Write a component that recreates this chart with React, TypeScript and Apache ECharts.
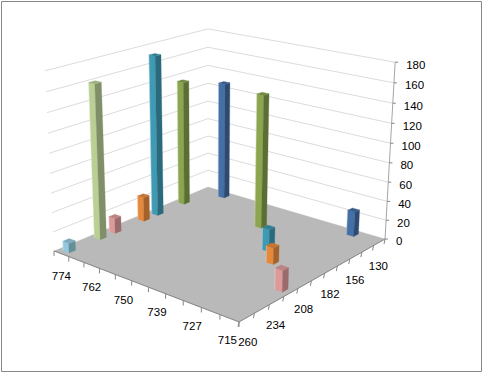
import React, { useEffect, useRef } from "react";
import * as echarts from "echarts";

// Axis categories and ticks
const frontCategories = ["774", "768", "762", "756", "750", "745", "739", "733", "727", "721", "715"];
const depthCategories = ["130", "143", "156", "169", "182", "195", "208", "221", "234", "247", "260"];
const valueTicks = [0, 20, 40, 60, 80, 100, 120, 140, 160, 180];
const valueMax = 180;

// Bars, one entry per column in the picture
const barFrontIndex = [1, 0, 0, 0, 0, 0, 0, 9, 5, 7, 8, 10];
const barDepthIndex = [0, 2, 4, 5, 7, 8, 10, 0, 2, 4, 5, 7];
const barValues = [128, 135, 171, 26, 16, 160, 10, 26, 140, 23, 17, 21];

// Series colours by depth category: [left face, right face, top face]
const depthColors: Record<number, string[]> = {
  0: ["#4470a6", "#2c4a72", "#375d8b"],
  2: ["#8ba64e", "#5b6e33", "#72893f"],
  4: ["#3f9ab3", "#2a6a7c", "#338095"],
  5: ["#e58a3c", "#a4622a", "#c47533"],
  7: ["#dc9a9a", "#9a6b6b", "#bb8383"],
  8: ["#b9cf94", "#808f67", "#9cb07e"],
  10: ["#92c9de", "#659098", "#7cabbd"],
};

// Projection of (s, t, z) to the page, in homogeneous coordinates
const P = {
  a: 132.9, b: -161.2, c: 208,
  d: 24.6, e: 30.4, f: 187,
  g: -0.1146, h: -0.1337,
  cx: -10, cy: -159.5, cw: -0.048,
};
const project = (s: number, t: number, z: number): number[] => {
  const k = z / valueMax;
  const w = P.g * s + P.h * t + 1 + P.cw * k;
  return [
    (P.a * s + P.b * t + P.c + P.cx * k) / w,
    (P.d * s + P.e * t + P.f + P.cy * k) / w,
  ];
};
const sOf = (i: number) => (i + 0.5) / frontCategories.length;
const tOf = (j: number) => (j + 0.5) / depthCategories.length;
const HALF = 0.0185;

const fontFamily = '"Liberation Sans", Arial, sans-serif';
const textEl = (text: string, x: number, y: number, align: string) => ({
  type: "text",
  silent: true,
  style: { text, x, y, align, verticalAlign: "middle", fill: "#000", font: `11.5px ${fontFamily}` },
});
const lineEl = (p: number[], q: number[], stroke: string, lineWidth = 1, opacity = 1) => ({
  type: "line",
  silent: true,
  shape: { x1: p[0], y1: p[1], x2: q[0], y2: q[1] },
  style: { stroke, lineWidth, opacity },
});
const polyEl = (points: number[][], fill: string) => ({
  type: "polygon",
  silent: true,
  shape: { points },
  style: { fill, stroke: fill, lineWidth: 0.3 },
});

function renderScene() {
  const children: any[] = [];
  // Walls' gridlines
  valueTicks.forEach((v) => {
    if (v > 0) {
      children.push({
        type: "polyline",
        silent: true,
        shape: { points: [project(0, 1, v), project(0, 0, v), project(1, 0, v)] },
        style: { stroke: "#dcdcdc", lineWidth: 1, fill: "none" },
      });
    }
  });
  // Floor
  children.push(polyEl([project(0, 0, 0), project(1, 0, 0), project(1, 1, 0), project(0, 1, 0)], "#b9b9b9"));
  // Value axis
  children.push(lineEl(project(1, 0, 0), project(1, 0, valueMax), "#a6a6a6"));
  valueTicks.forEach((v) => {
    const p = project(1, 0, v);
    children.push(lineEl(p, [p[0] + 3, p[1]], "#868686"));
    children.push(textEl(String(v), p[0] + 11, p[1] + 2.5, "left"));
  });
  // Floor axes
  children.push(lineEl(project(0, 1, 0), project(1, 1, 0), "#868686"));
  children.push(lineEl(project(1, 0, 0), project(1, 1, 0), "#868686"));
  for (let i = 0; i <= frontCategories.length; i++) {
    const p = project(i / frontCategories.length, 1, 0);
    children.push(lineEl(p, [p[0], p[1] + 5], "#868686"));
  }
  for (let j = 0; j <= depthCategories.length; j++) {
    const p = project(1, j / depthCategories.length, 0);
    children.push(lineEl(p, [p[0] - 1, p[1] + 5], "#868686"));
  }
  frontCategories.forEach((label, i) => {
    if (i % 2 === 0) {
      const p = project(sOf(i), 1, 0);
      const nudge = i === frontCategories.length - 1 ? -2 : 0;
      children.push(textEl(label, p[0] + nudge, p[1] + 22, "center"));
    }
  });
  depthCategories.forEach((label, j) => {
    if (j % 2 === 0) {
      const p = project(1, tOf(j), 0);
      const nudge = j === depthCategories.length - 1 ? 2 : 0;
      children.push(textEl(label, p[0] - 1 + nudge, p[1] + 24, "center"));
    }
  });
  return { type: "group", children };
}

function renderBar(_params: any, api: any) {
  const i = api.value(0);
  const j = api.value(1);
  const v = api.value(2);
  const [leftFill, rightFill, topFill] = depthColors[j];
  const s = sOf(i);
  const t = tOf(j);
  const s0 = s - HALF, s1 = s + HALF, t0 = t - HALF, t1 = t + HALF;
  return {
    type: "group",
    children: [
      polyEl([project(s0, t1, 0), project(s1, t1, 0), project(s1, t1, v), project(s0, t1, v)], leftFill),
      polyEl([project(s1, t1, 0), project(s1, t0, 0), project(s1, t0, v), project(s1, t1, v)], rightFill),
      polyEl([project(s0, t0, v), project(s1, t0, v), project(s1, t1, v), project(s0, t1, v)], topFill),
      lineEl(project(s0, t1, 0), project(s0, t1, v), "#ffffff", 1, 0.3),
    ],
  };
}

export default function App() {
  const ref = useRef<HTMLDivElement>(null);
  useEffect(() => {
    document.body.style.margin = "0";
    const chart = echarts.init(ref.current!, undefined, { renderer: "svg" });
    const barData = barValues
      .map((v, n) => [barFrontIndex[n], barDepthIndex[n], v])
      .sort((p, q) => p[0] + p[1] - (q[0] + q[1]));
    chart.setOption({
      animation: false,
      backgroundColor: "#ffffff",
      graphic: [
        {
          type: "rect",
          silent: true,
          z: -10,
          shape: { x: 1.5, y: 1.5, width: 480, height: 370 },
          style: { fill: "#ffffff", stroke: "#868686", lineWidth: 1 },
        },
      ],
      series: [
        {
          type: "custom",
          coordinateSystem: "none",
          silent: true,
          z: 1,
          data: [[0]],
          renderItem: renderScene,
        },
        {
          type: "custom",
          coordinateSystem: "none",
          silent: true,
          z: 2,
          dimensions: ["front", "depth", "value"],
          data: barData,
          renderItem: renderBar,
        },
      ],
    });
    return () => chart.dispose();
  }, []);
  return <div ref={ref} style={{ width: 483, height: 373 }} />;
}
